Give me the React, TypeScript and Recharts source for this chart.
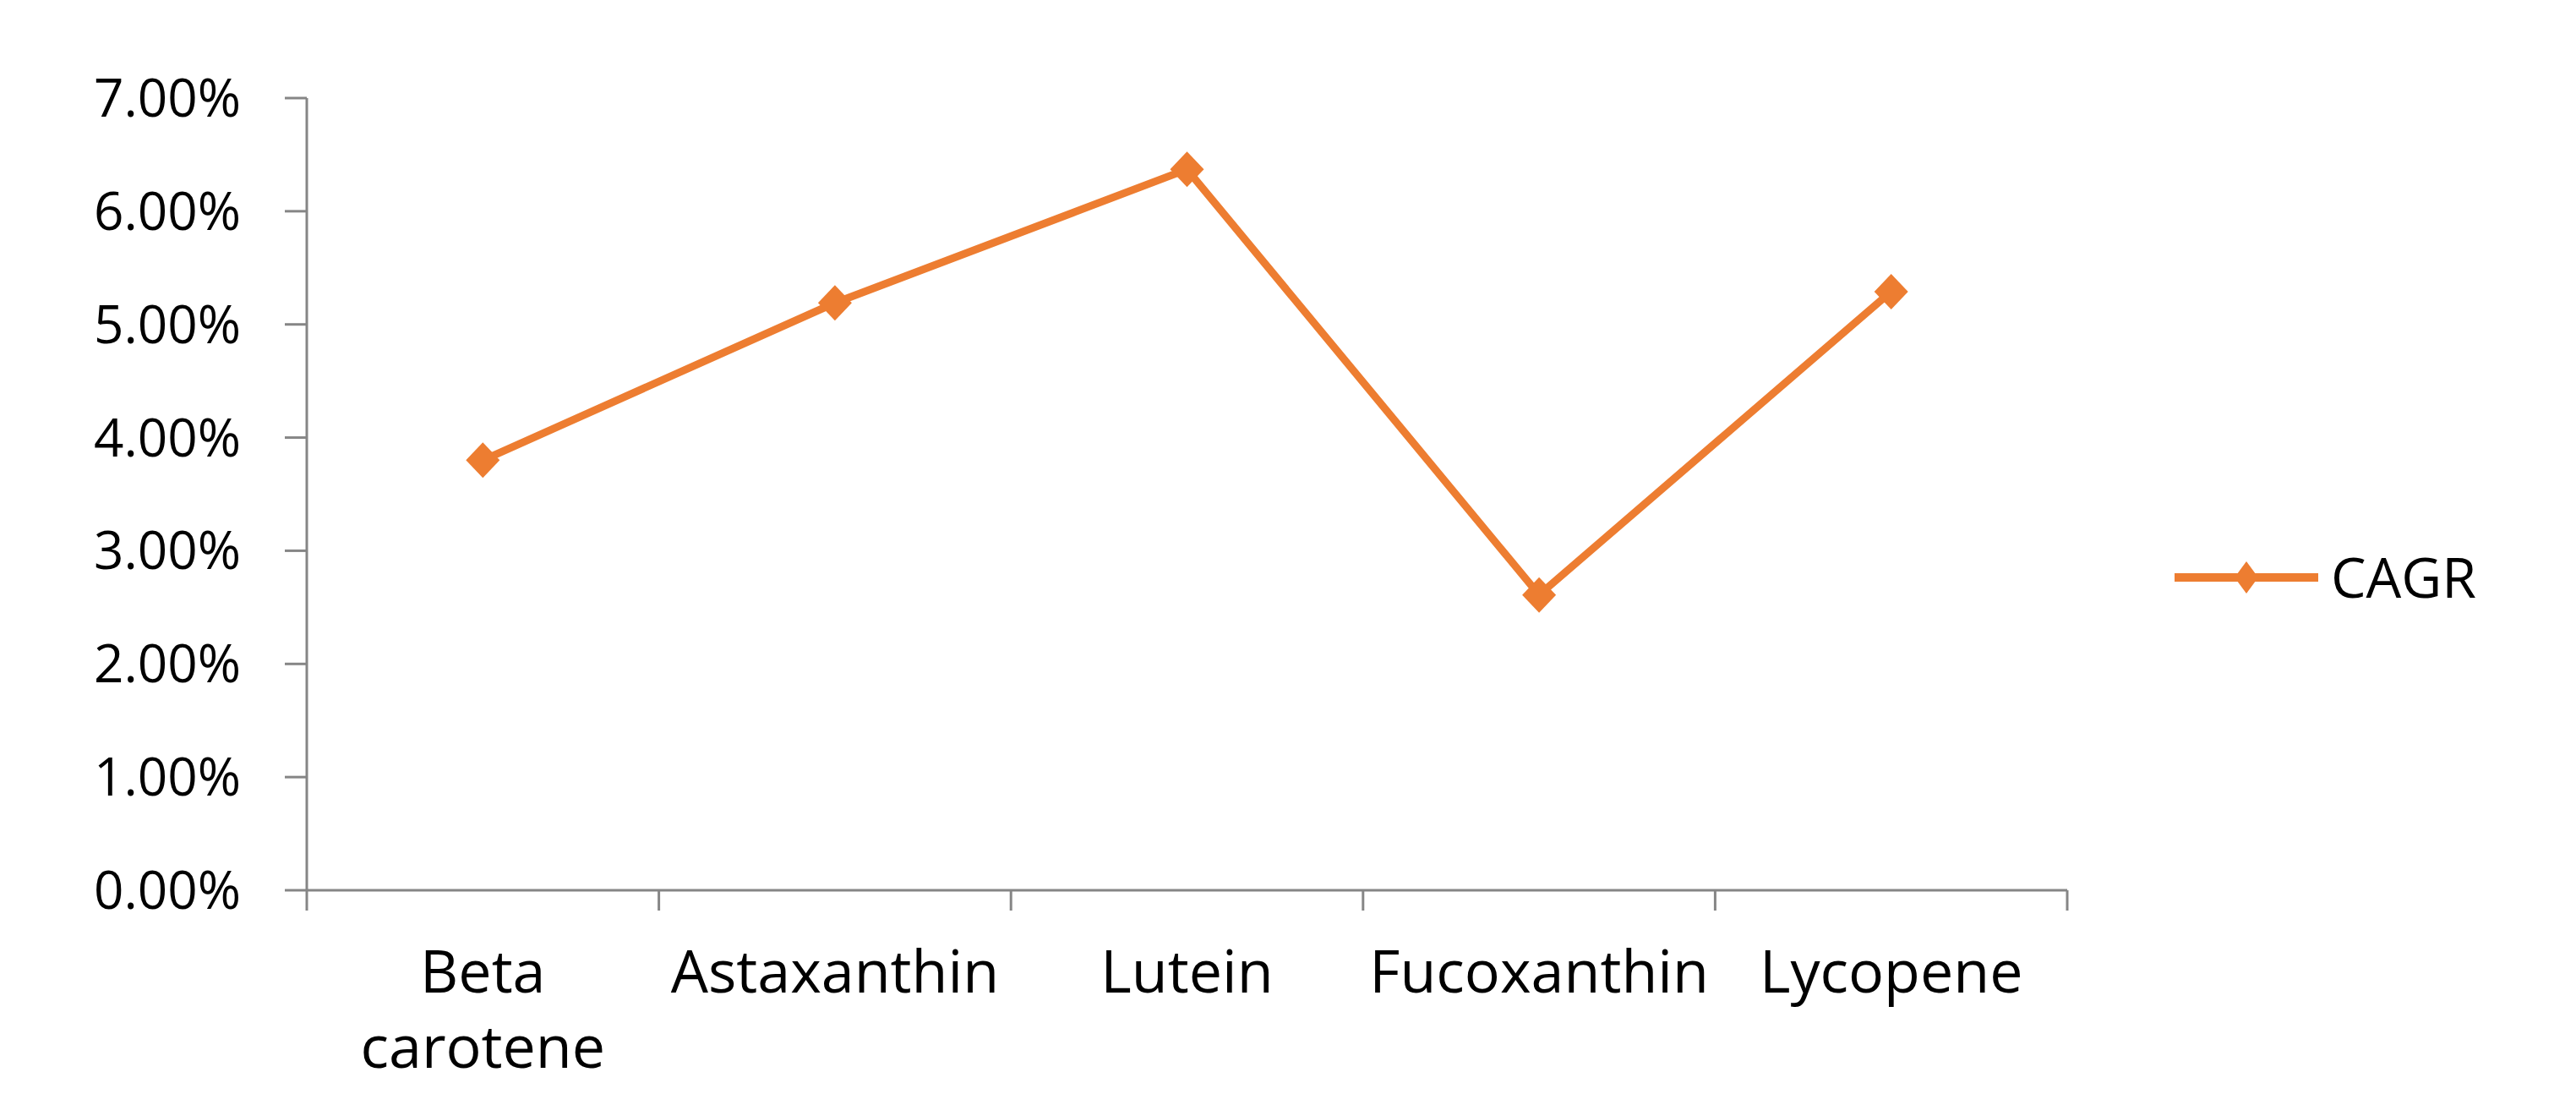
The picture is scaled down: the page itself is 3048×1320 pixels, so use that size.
import { LineChart, Line, XAxis, YAxis, Legend } from "recharts";

const categories = ["Beta carotene", "Astaxanthin", "Lutein", "Fucoxanthin", "Lycopene"];
const cagr = [3.8, 5.19, 6.37, 2.61, 5.29];
const yTicks = [0, 1, 2, 3, 4, 5, 6, 7];

const data = categories.map((name, i) => ({ name, cagr: cagr[i] }));

const ORANGE = "#ED7D31";
const AXIS = "#868686";
const FONT = "'Open Sans', 'DejaVu Sans', sans-serif";

const W = 3048;
const H = 1320;
const Y_AXIS_W = 363;
const LEGEND_W = 540;
const LEGEND_H = 100;
const MARGIN_RIGHT = 602 - LEGEND_W;
const PLOT_W = W - Y_AXIS_W - MARGIN_RIGHT - LEGEND_W;
const X_TICK_SIZE = 24;
const X_TICK_MARGIN = 47;

// Excel style: tick marks sit between the categories, labels in the middle
function CategoryTick(props: any) {
  const { x, y, payload, index } = props;
  const band = PLOT_W / categories.length;
  const axisY = y - X_TICK_SIZE - X_TICK_MARGIN;
  const lines = String(payload.value).split(" ");
  return (
    <g>
      <line x1={x - band / 2} x2={x - band / 2} y1={axisY} y2={axisY + X_TICK_SIZE} stroke={AXIS} strokeWidth={3} />
      {index === categories.length - 1 && (
        <line x1={x + band / 2} x2={x + band / 2} y1={axisY} y2={axisY + X_TICK_SIZE} stroke={AXIS} strokeWidth={3} />
      )}
      <text x={x} y={y} textAnchor="middle" fontSize={70} fontFamily={FONT} fill="#000">
        {lines.map((word, i) => (
          <tspan key={i} x={x} dy={i === 0 ? 50 : 89}>
            {word}
          </tspan>
        ))}
      </text>
    </g>
  );
}

function Diamond(props: any) {
  const { cx, cy, index } = props;
  if (cx == null || cy == null) return <g key={index} />;
  return (
    <path
      key={index}
      d={`M${cx},${cy - 21}L${cx + 20},${cy}L${cx},${cy + 21}L${cx - 20},${cy}Z`}
      fill={ORANGE}
    />
  );
}

function LegendContent(props: any) {
  const item = props.payload?.[0];
  return (
    <div style={{ width: LEGEND_W, height: LEGEND_H }}>
      <svg width={LEGEND_W} height={LEGEND_H}>
        <line x1={127} x2={297} y1={50} y2={50} stroke={ORANGE} strokeWidth={10} />
        <path d="M212,31L226,50L212,69L198,50Z" fill={ORANGE} />
        <text x={312} y={74} fontSize={66} fontFamily={FONT} fill="#000">
          {item ? item.value : "CAGR"}
        </text>
      </svg>
    </div>
  );
}

export default function App() {
  return (
    <div style={{ position: "absolute", left: 0, top: 0, background: "#fff" }}>
      <LineChart
        width={W}
        height={H}
        data={data}
        margin={{ top: 116, right: MARGIN_RIGHT, left: 0, bottom: 0 }}
        style={{ fontFamily: FONT }}
      >
        <XAxis
          dataKey="name"
          height={H - 1053}
          padding={{ left: PLOT_W / categories.length / 2, right: PLOT_W / categories.length / 2 }}
          axisLine={{ stroke: AXIS, strokeWidth: 3 }}
          tickLine={false}
          tickSize={X_TICK_SIZE}
          tickMargin={X_TICK_MARGIN}
          interval={0}
          tick={<CategoryTick />}
        />
        <YAxis
          width={Y_AXIS_W}
          domain={[0, 7]}
          ticks={yTicks}
          interval={0}
          tickFormatter={(v: number) => `${v.toFixed(2)}%`}
          axisLine={{ stroke: AXIS, strokeWidth: 3 }}
          tickLine={{ stroke: AXIS, strokeWidth: 3 }}
          tickSize={26}
          tickMargin={52}
          tick={{ fontSize: 62, fill: "#000", fontFamily: FONT }}
        />
        <Legend
          layout="vertical"
          align="right"
          verticalAlign="middle"
          content={<LegendContent />}
          wrapperStyle={{ top: 633 }}
        />
        <Line
          type="linear"
          dataKey="cagr"
          name="CAGR"
          stroke={ORANGE}
          strokeWidth={9}
          dot={Diamond}
          activeDot={false}
          isAnimationActive={false}
        />
      </LineChart>
    </div>
  );
}
